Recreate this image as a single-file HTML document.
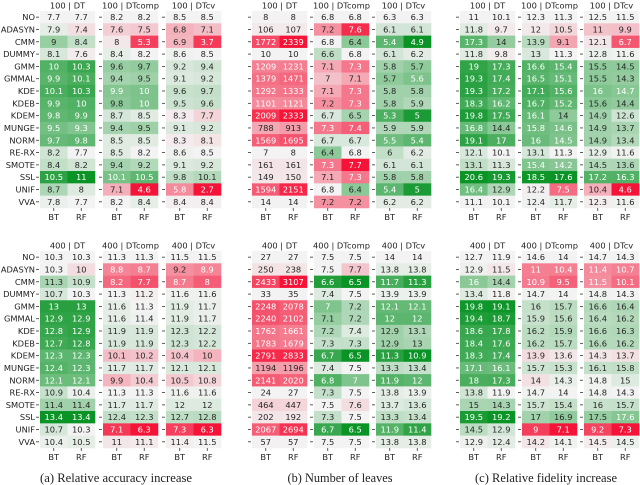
<!DOCTYPE html>
<html><head><meta charset="utf-8"><style>
html,body{margin:0;padding:0;background:#fff;}
svg{display:block;}
</style></head><body>
<svg id="fig" width="640" height="485" viewBox="0 0 640 485" xmlns="http://www.w3.org/2000/svg"></svg>
<script>
const rowLabels = ["NO","ADASYN","CMM","DUMMY","GMM","GMMAL","KDE","KDEB","KDEM","MUNGE","NORM","RE-RX","SMOTE","SSL","UNIF","VVA"];
const colLabels = ["BT","RF"];
const modelNames = ["DT","DTcomp","DTcv"];
// (a) accuracy, 100
const acc100DT = [[7.7,7.9,9,8.1,10,9.9,10.1,9.9,9.8,9.5,9.7,8.2,8.4,10.5,8.7,7.8],[7.7,7.4,8.4,7.6,10.3,10.1,10.3,10,9.9,9.3,9.8,7.7,8.2,11,8,7.7]];
const acc100DTcomp = [[8.2,7.6,8,8.4,9.6,9.4,9.9,9.8,8.7,9.4,8.5,8.5,9.4,10.1,7.1,8.2],[8.2,7.5,5.3,8.2,9.7,9.5,10,10,8.5,9.5,8.5,8.2,9.2,10.5,4.6,8.4]];
const acc100DTcv = [[8.5,6.8,6.9,8.6,9.2,9.1,9.6,9.5,8.3,9.1,8.3,8.6,9.1,9.8,5.8,8.4],[8.5,7.1,3.7,8.5,9.4,9.2,9.7,9.6,7.7,9.2,8.1,8.5,9.2,10.1,2.7,8.4]];
// (a) accuracy, 400
const acc400DT = [[10.3,10.3,11.3,10.7,13,12.9,12.8,12.7,12.3,12.4,12.1,10.9,11.4,13.4,10.7,10.4],[10.3,10,10.9,10.3,13,12.9,12.9,12.8,12.3,12.3,12.1,10.4,11.4,13.4,10.3,10.5]];
const acc400DTcomp = [[11.3,8.8,8.2,11.3,11.6,11.6,11.9,11.9,10.1,11.7,9.9,11.3,11.7,12.4,7.1,11],[11.3,8.7,7.7,11.2,11.3,11.4,11.9,11.9,10.2,11.7,10.4,11.3,11.7,12.3,6.3,11.1]];
const acc400DTcv = [[11.5,9.2,8.7,11.6,11.9,11.9,12.3,12.3,10.4,12.1,10.5,11.6,12,12.7,7.3,11.4],[11.5,8.9,8,11.6,11.7,11.7,12.2,12.2,10,12.1,10.8,11.6,12,12.8,6.3,11.5]];
// (b) leaves, 100
const leaf100DT = [[8,106,1772,10,1209,1379,1292,1101,2009,788,1569,7,161,149,1594,14],[8,107,2339,10,1231,1471,1333,1121,2333,913,1695,8,161,150,2151,14]];
const leaf100DTcomp = [[6.8,7.2,6.8,6.6,7.1,7,7.1,7.2,6.7,7.3,6.7,6.4,7.3,7.1,6.8,7.2],[6.8,7.6,6.4,6.8,7.3,7.1,7.3,7.3,6.5,7.4,6.7,6.8,7.7,7.3,6.4,7.2]];
const leaf100DTcv = [[6.3,6.1,5.4,6.1,5.8,5.7,5.8,5.8,5.3,5.9,5.5,6,6.1,5.8,5.4,6.2],[6.3,6.1,4.9,6.2,5.7,5.6,5.8,5.9,5,5.9,5.4,6.2,6.1,5.8,5,6.2]];
// (b) leaves, 400
const leaf400DT = [[27,250,2433,33,2248,2240,1762,1783,2791,1194,2141,24,464,202,2067,57],[27,238,3107,35,2078,2102,1661,1679,2833,1196,2020,27,447,192,2694,57]];
const leaf400DTcomp = [[7.5,7.5,6.6,7.4,7,7.1,7.2,7.3,6.7,7.4,6.8,7.3,7.5,7.3,6.7,7.5],[7.5,7.7,6.5,7.5,7.2,7.2,7.4,7.3,6.5,7.5,7,7.5,7.6,7.5,6.5,7.5]];
const leaf400DTcv = [[14,13.8,11.7,13.9,12.1,12,12.9,12.9,11.3,13.3,11.9,13.8,13.7,13.3,11.9,13.8],[14,13.8,11.3,13.9,12.1,12,13.1,13,10.9,13.4,12,13.9,13.6,13.4,11.4,13.8]];
// (c) fidelity, 100
const fid100DT = [[11,11.8,17.3,11.8,19,19.3,19.3,18.3,19.8,16.8,19.1,12.1,13.1,20.6,16.4,11.1],[10.1,9.7,14,9.8,17.3,17.4,17.2,16.2,17.5,14.4,17,10.1,11.3,19.3,12.9,10.1]];
const fid100DTcomp = [[12.3,12,13.9,13,16.6,16.5,17.1,16.7,16.1,15.8,16,13.1,15.4,18.5,12.2,12.4],[11.3,10.5,9.1,11.3,15.4,15.1,15.6,15.2,14,14.6,14.5,11.3,14.2,17.6,7.5,11.7]];
const fid100DTcv = [[12.5,11,12.1,12.8,15.5,15.5,16,15.6,14.9,14.9,14.9,12.9,14.5,17.2,10.4,12.3],[11.5,9.9,6.7,11.6,14.5,14.3,14.7,14.4,12.6,13.7,13.4,11.6,13.6,16.3,4.6,11.6]];
// (c) fidelity, 400
const fid400DT = [[12.7,12.9,16,13.4,19.8,19.4,18.6,18.4,18.3,17.1,18,13.8,15,19.5,14.5,12.9],[11.9,11.5,14.4,11.8,19.1,18.7,17.8,17.6,17.4,16.1,17.3,11.9,14.3,19.2,12.9,12.4]];
const fid400DTcomp = [[14.6,11,10.9,14.7,16,15.9,16.2,16.2,13.9,15.7,14,14.7,15.7,17,9,14.2],[14,10.4,9.5,14,15.7,15.6,15.9,15.7,13.6,15.3,14.3,14,15.4,16.9,7.1,14.1]];
const fid400DTcv = [[14.7,11.4,11.5,14.8,16.6,16.4,16.6,16.6,14.3,16.1,14.8,14.8,16,17.5,9.2,14.5],[14.3,10.7,10.1,14.3,16.4,16.2,16.3,16.2,13.7,15.8,15,14.3,15.7,17.6,7.3,14.5]];

const NS = "http://www.w3.org/2000/svg";
const svg = document.getElementById("fig");
const FONT = '"DejaVu Sans","Liberation Sans",sans-serif';
const FS = "8.3";
function mk(tag, attrs, parent){const e=document.createElementNS(NS,tag);for(const k in attrs)e.setAttribute(k,attrs[k]);(parent||svg).appendChild(e);return e;}

const CW = 27.5, PITCH = 12.31, HW = 55, HH = 16*PITCH;
const GREEN=[10,148,38], RED=[245,20,56], MID=[243,243,243];
function colorFor(t){
  const c = t>=0?GREEN:RED, a=Math.min(1,Math.abs(t));
  return "rgb("+MID.map((m,i)=>Math.round(m+(c[i]-m)*a)).join(",")+")";
}
function fmt(v){return String(v);}

const panels = [
  {key:"acc", xs:[40,103,166], reverse:false, label:true},
  {key:"leaf", xs:[252,314,376], reverse:true, label:false},
  {key:"fid", xs:[460,522,584], reverse:false, label:false}
];
const dataMap = {acc100:[acc100DT,acc100DTcomp,acc100DTcv],acc400:[acc400DT,acc400DTcomp,acc400DTcv],
  leaf100:[leaf100DT,leaf100DTcomp,leaf100DTcv],leaf400:[leaf400DT,leaf400DTcomp,leaf400DTcv],
  fid100:[fid100DT,fid100DTcomp,fid100DTcv],fid400:[fid400DT,fid400DTcomp,fid400DTcv]};
const sizes = [{n:"100", y0:11, ty:8.5},{n:"400", y0:251, ty:248.5}];

panels.forEach(p=>{
  sizes.forEach(s=>{
    const mats = dataMap[p.key+s.n];
    mats.forEach((mat,mi)=>{
      const x0=p.xs[mi], y0=s.y0;
      const g=mk("g",{});
      
      
      let maxDev=0;
      mat.forEach(col=>col.forEach(v=>{maxDev=Math.max(maxDev,Math.abs(v-col[0]));}));
      if(maxDev===0)maxDev=1;
      const title=mk("text",{x:x0+HW/2,y:s.ty,"text-anchor":"middle","font-family":FONT,"font-size":FS,fill:"#222"},g);
      title.textContent=s.n+" | "+modelNames[mi];
      
      
      mat.forEach((col,ci)=>{
        col.forEach((v,ri)=>{
          let t=(v-col[0])/maxDev; if(p.reverse)t=-t;
          const x=x0+ci*CW, y=y0+ri*PITCH;
          const r=mk("rect",{x:x,y:y,width:CW+0.3,height:PITCH+0.3,fill:colorFor(t)},g);
          
          
          const tx=mk("text",{x:x+CW/2,y:y+PITCH/2+3,"text-anchor":"middle","font-family":FONT,"font-size":FS,fill:Math.abs(t)>0.45?"#fff":"#262626"},g);
          tx.textContent=fmt(v);
          
          
        });
        const cx=x0+ci*CW+CW/2;
        mk("line",{x1:cx,y1:y0+HH,x2:cx,y2:y0+HH+3,stroke:"#333","stroke-width":"0.8"},g);
        const cl=mk("text",{x:cx,y:y0+HH+12,"text-anchor":"middle","font-family":FONT,"font-size":FS,fill:"#222"},g);
        cl.textContent=colLabels[ci];
        
        
      });
      rowLabels.forEach((lab,ri)=>{
        const cy=y0+ri*PITCH+PITCH/2;
        mk("line",{x1:x0-4,y1:cy,x2:x0-1,y2:cy,stroke:"#333","stroke-width":"0.8"},g);
        if(p.label && mi===0){
          const rl=mk("text",{x:x0-5,y:cy+3,"text-anchor":"end","font-family":FONT,"font-size":FS,fill:"#222"},g);
          rl.textContent=lab;
          
          
        }
      });
    });
  });
});
const caps=[["(a) Relative accuracy increase",116,152],["(b) Number of leaves",340,105],["(c) Relative fidelity increase",546,142]];
caps.forEach(c=>{
  const t=mk("text",{x:c[1],y:482,"text-anchor":"middle","font-family":'"Liberation Serif",serif',"font-size":"12.5",fill:"#222",textLength:c[2],lengthAdjust:"spacingAndGlyphs"});
  t.textContent=c[0];
  
  
});
</script>
</body></html>
